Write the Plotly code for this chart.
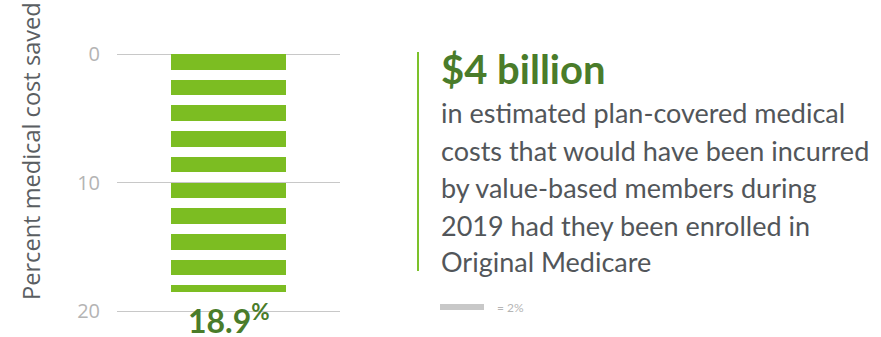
import plotly.graph_objects as go

# ---- data ----
category = ["Value-based"]
percent_saved = [18.9]
unit_per_stripe = 2.0
tick_values = [0, 10, 20]
tick_labels = ["0", "10", "20"]
headline = "$4 billion"
body_lines = [
    "in estimated plan-covered medical",
    "costs that would have been incurred",
    "by value-based members during",
    "2019 had they been enrolled in",
    "Original Medicare",
]
legend_text = "= 2%"
axis_title = "Percent medical cost saved"

# ---- layout geometry (pixels) ----
W, H = 881, 337
L, R = 117, 340
Y0_PX, Y20_PX = 54, 311          # where 0 and 20 sit
PAD = 4                          # extra plot room so edge gridlines show
T, B = Y0_PX - PAD, Y20_PX + PAD
PX_PER_UNIT = (Y20_PX - Y0_PX) / 20.0
Y_RANGE = [20 + PAD / PX_PER_UNIT, 0 - PAD / PX_PER_UNIT]

BAR_GREEN = "#7cbd22"
DARK_GREEN = "#4a7c2a"
STRIPE_FRAC = 0.61


def px_x(px):
    return (px - L) / (R - L)


def px_y(py):
    return (B - py) / (B - T)


# build stripes from the data value
value = percent_saved[0]
bases, heights = [], []
start = 0.0
while start < value - 1e-9:
    portion = min(unit_per_stripe, value - start) / unit_per_stripe
    bases.append(start)
    heights.append(unit_per_stripe * STRIPE_FRAC * portion)
    start += unit_per_stripe

fig = go.Figure()
fig.add_trace(go.Bar(
    x=category * len(bases),
    y=heights,
    base=bases,
    width=0.516,
    marker=dict(color=BAR_GREEN, line=dict(width=0)),
    hoverinfo="skip",
    showlegend=False,
))

annotations = []
# value label under the bar
annotations.append(dict(
    x=px_x(229), y=px_y(319), xref="paper", yref="paper",
    text=f"<b>{value}<sup>%</sup></b>", showarrow=False,
    font=dict(family="Lato", size=32, color=DARK_GREEN),
    xanchor="center", yanchor="middle",
))
# axis title
annotations.append(dict(
    x=px_x(31), y=px_y(151), xref="paper", yref="paper",
    text=axis_title, showarrow=False, textangle=-90,
    font=dict(family="Open Sans", size=23.6, color="#5a5e62"),
    xanchor="center", yanchor="middle",
))
# headline
annotations.append(dict(
    x=px_x(439), y=px_y(69), xref="paper", yref="paper",
    text=f"<b>{headline}</b>", showarrow=False,
    font=dict(family="Lato", size=40, color=DARK_GREEN),
    xanchor="left", yanchor="middle",
))
baselines = [121.7, 159.3, 196.7, 234.0, 270.7]
for line, bl in zip(body_lines, baselines):
    annotations.append(dict(
        x=px_x(439), y=px_y(bl - 9), xref="paper", yref="paper",
        text=line, showarrow=False,
        font=dict(family="Lato", size=27, color="#52565a"),
        xanchor="left", yanchor="middle",
    ))
annotations.append(dict(
    x=px_x(495), y=px_y(307), xref="paper", yref="paper",
    text=legend_text, showarrow=False,
    font=dict(family="Lato", size=12, color="#b5b5b5"),
    xanchor="left", yanchor="middle",
))

shapes = [
    # green divider line
    dict(type="line", xref="paper", yref="paper",
         x0=px_x(418), x1=px_x(418), y0=px_y(52), y1=px_y(271),
         line=dict(color="#7cc12a", width=2)),
    # legend swatch
    dict(type="rect", xref="paper", yref="paper",
         x0=px_x(440), x1=px_x(484), y0=px_y(310), y1=px_y(304),
         fillcolor="#c8c8c8", line=dict(width=0)),
]

fig.update_layout(
    width=W, height=H,
    margin=dict(l=L, r=W - R, t=T, b=H - B, autoexpand=False),
    paper_bgcolor="white", plot_bgcolor="white",
    xaxis=dict(range=[-0.5, 0.5], showticklabels=False, showgrid=False,
               zeroline=False, showline=False, fixedrange=True),
    yaxis=dict(range=Y_RANGE, tickvals=tick_values, ticktext=tick_labels,
               showgrid=True, gridcolor="#c8c8c8", gridwidth=1,
               zeroline=False, showline=False, ticks="",
               ticklabelstandoff=16,
               tickfont=dict(family="Open Sans", size=20, color="#b4b4b4"),
               fixedrange=True),
    annotations=annotations,
    shapes=shapes,
    bargap=0,
)

fig.write_html("out.html")
